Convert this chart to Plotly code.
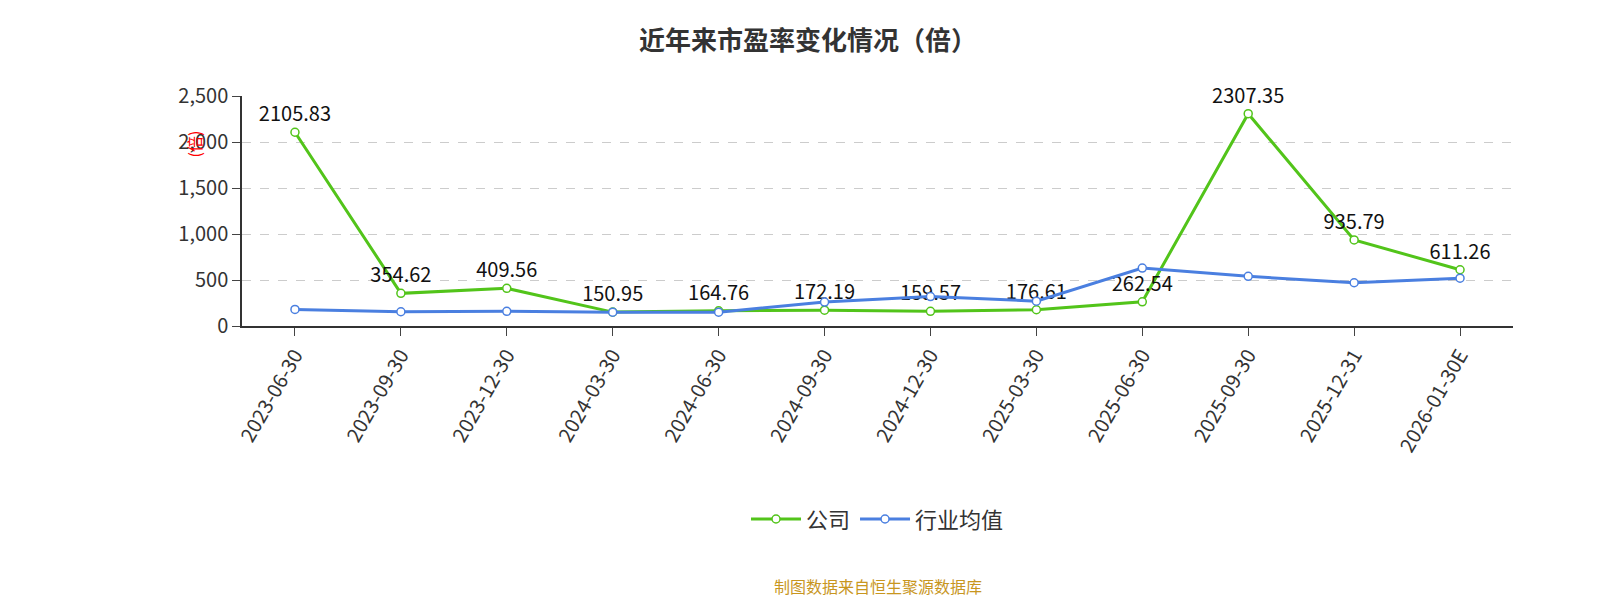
import plotly.graph_objects as go

dates = ['2023-06-30', '2023-09-30', '2023-12-30', '2024-03-30', '2024-06-30', '2024-09-30',
         '2024-12-30', '2025-03-30', '2025-06-30', '2025-09-30', '2025-12-31', '2026-01-30E']
company = [2105.83, 354.62, 409.56, 150.95, 164.76, 172.19, 159.57, 176.61, 262.54, 2307.35, 935.79, 611.26]
industry = [180, 155, 160, 150, 150, 260, 320, 270, 630, 540, 470, 520]

fig = go.Figure()
fig.add_trace(go.Scatter(
    x=dates, y=company, name='公司', mode='lines+markers+text',
    text=[f'{v:.2f}' for v in company], textposition='top center',
    textfont=dict(size=20, color='#111'), cliponaxis=False,
    line=dict(color='#52c41a', width=3),
    marker=dict(size=8, color='white', line=dict(color='#52c41a', width=1.5))))
fig.add_trace(go.Scatter(
    x=dates, y=industry, name='行业均值', mode='lines+markers',
    line=dict(color='#4a7fe0', width=3),
    marker=dict(size=8, color='white', line=dict(color='#4a7fe0', width=1.5))))

fig.update_layout(
    width=1600, height=600,
    title=dict(text='<b>近年来市盈率变化情况（倍）</b>', x=0.5, y=0.96, font=dict(size=26, color='#333')),
    font=dict(family='Noto Sans CJK SC', color='#333'),
    plot_bgcolor='white', paper_bgcolor='white',
    margin=dict(l=234, r=95, t=88, b=282),
    legend=dict(orientation='h', x=0.5, xanchor='center', y=-0.84, yanchor='middle',
                font=dict(size=22), itemwidth=50),
    xaxis=dict(type='category', tickangle=-60, tickfont=dict(size=20, color='#333'),
               showline=True, linecolor='#333', linewidth=1.5, ticks='outside', ticklen=8,
               showgrid=False, range=[-0.5, 11.5]),
    yaxis=dict(range=[0, 2500], dtick=500, tickformat=',', tickfont=dict(size=20, color='#333'),
               showline=True, linecolor='#333', linewidth=1.5, ticks='outside', ticklen=8,
               gridcolor='#ccc', griddash='dash', zeroline=False),
    annotations=[
        dict(text='(倍)', textangle=-90, x=-0.049, y=0.86, xref='paper', yref='paper',
             showarrow=False, font=dict(size=16, color='red')),
        dict(text='制图数据来自恒生聚源数据库', x=0.5, y=-1.13, xref='paper', yref='paper',
             yanchor='middle', showarrow=False, font=dict(size=16, color='#c8961e')),
    ],
)
fig.write_html('out.html')
